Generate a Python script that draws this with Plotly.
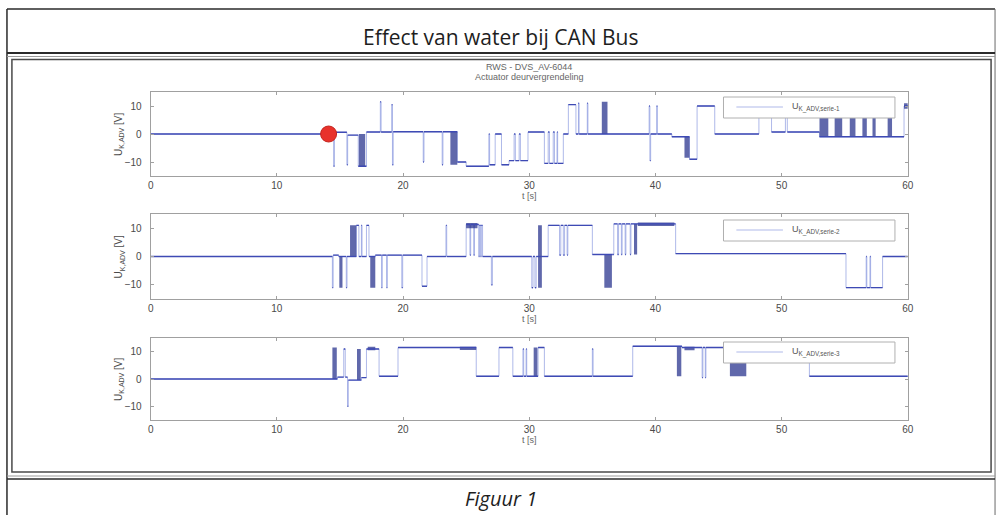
import plotly.graph_objects as go

W, H = 1005, 515
T_END = 60.0

# ---- serie-1: step breakpoints (s, V); each level holds until the next time ----
s1_t = [0.0, 14.50, 14.56, 15.55, 15.61, 16.45, 17.10, 18.20, 18.26, 19.10, 19.16, 19.22,
        21.60, 21.66, 23.10, 23.16, 24.30, 25.00, 26.80, 26.86, 27.30, 27.80, 28.40, 28.80,
        28.90, 29.20, 29.30, 29.90, 31.20, 31.50, 31.60, 31.90, 32.00, 32.20, 32.25, 32.70,
        33.10, 33.70, 33.90, 33.95, 34.60, 34.65, 39.50, 39.56, 39.62, 40.10, 40.15, 41.30,
        42.70, 43.30, 44.70, 48.20, 49.20, 50.30, 50.45, 53.00, 59.70]
s1_v = [0.0, -11.5, 0.6, -11.0, -0.4, -11.5, 0.7, 11.5, 0.7, 10.5, -11.0, 0.8,
        -10.0, 0.8, -11.0, 0.8, -10.0, -11.5, 0.0, -11.0, 0.0, -11.0, -9.5, 0.0,
        -9.5, 0.0, -9.5, 0.7, -10.5, 0.7, -10.5, 0.7, -10.5, 0.7, -10.5, 0.0,
        10.5, 0.0, 11.0, 0.0, 11.0, 0.0, 10.0, -9.5, 0.0, 10.0, 0.0, -1.0,
        -9.0, 10.0, 0.0, 10.0, 0.7, 6.0, 0.7, -1.0, 10.0]
# fast switching bursts: start, end, low, high
s1_b_t0 = [16.50, 23.75, 35.75, 42.30, 53.00, 54.20, 55.40, 56.40, 57.20, 58.40, 59.70]
s1_b_t1 = [17.00, 24.30, 36.20, 42.70, 53.70, 54.80, 55.85, 56.75, 57.45, 58.75, 60.00]
s1_b_lo = [-11.5, -11.0, 0.0, -8.5, -1.0, -1.0, -1.0, -1.0, -1.0, -1.0, 9.0]
s1_b_hi = [0.0, 0.8, 11.5, -1.0, 10.0, 10.0, 10.0, 10.0, 10.0, 10.0, 11.0]

# ---- serie-2 ----
s2_t = [0.0, 14.40, 14.46, 14.90, 15.50, 15.56, 16.30, 16.50, 16.70, 16.75, 17.10, 17.30,
        17.80, 18.30, 18.35, 18.70, 18.75, 19.90, 19.97, 21.50, 21.90, 23.40, 23.46, 25.00,
        25.30, 25.36, 25.60, 25.66, 26.00, 26.05, 26.15, 26.20, 26.30, 27.00, 27.08, 30.20,
        30.30, 30.45, 30.55, 31.00, 31.50, 32.40, 32.50, 32.70, 32.80, 33.00, 33.06, 35.00,
        36.60, 36.70, 37.00, 37.08, 37.30, 37.36, 37.60, 37.66, 38.00, 38.06, 41.60, 55.10,
        56.70, 56.75, 57.00, 57.05, 58.00]
s2_v = [0.0, -11.0, 0.5, 0.0, -11.0, 0.0, 11.0, 0.0, 11.0, 0.0, 11.0, 0.0,
        0.5, -11.0, 0.5, -11.0, 0.5, -11.0, 0.5, -10.5, 0.0, 11.0, 0.0, 11.3,
        0.5, 11.3, 0.5, 11.3, 0.0, 11.0, 0.0, 11.0, 0.0, -10.0, 0.0, -11.0,
        0.0, -11.0, 0.0, 0.0, 11.0, 0.5, 11.0, 0.5, 11.0, 0.5, 11.0, 0.7,
        0.7, 11.5, 0.7, 11.5, 0.7, 11.5, 0.7, 11.5, 0.7, 11.5, 1.0, -11.0,
        0.0, -11.0, 0.0, -11.0, 0.0]
s2_b_t0 = [14.95, 15.80, 17.40, 25.00, 30.70, 35.95, 38.30, 38.60]
s2_b_t1 = [15.20, 16.30, 17.80, 25.90, 31.00, 36.55, 38.55, 41.50]
s2_b_lo = [-11.0, 0.0, -11.0, 10.0, -11.0, -11.0, 0.7, 10.8]
s2_b_hi = [0.0, 11.0, 0.0, 11.8, 11.0, 0.7, 11.5, 12.0]

# ---- serie-3 ----
s3_t = [0.0, 14.80, 15.30, 15.42, 15.60, 15.66, 16.70, 17.10, 18.10, 19.60, 25.80, 27.60,
        28.70, 29.50, 29.56, 29.75, 29.80, 30.70, 31.20, 35.00, 35.06, 38.20, 42.10, 43.70,
        43.76, 43.95, 44.00, 47.20, 52.20]
s3_v = [0.0, 0.7, 11.0, 0.7, -10.0, -0.4, 0.5, 11.0, 1.0, 11.5, 1.0, 11.5,
        1.0, 11.0, 1.0, 11.0, 1.0, 11.5, 1.0, 11.0, 1.0, 12.0, 11.5, 0.5,
        11.5, 0.5, 11.5, 11.5, 1.0]
s3_b_t0 = [14.40, 16.35, 17.20, 24.50, 30.35, 41.70, 42.30, 45.90]
s3_b_t1 = [14.75, 16.65, 17.80, 25.80, 30.65, 42.05, 43.10, 47.20]
s3_b_lo = [0.0, -0.4, 10.5, 10.6, 1.0, 1.0, 10.5, 1.0]
s3_b_hi = [11.5, 11.0, 11.8, 11.8, 11.5, 12.0, 11.8, 11.0]

# marked event (first disturbance)
event_t = [14.1]
event_v = [0.0]

series_names = ["serie-1", "serie-2", "serie-3"]
x_ticks = [0, 10, 20, 30, 40, 50, 60]
y_ticks = [-10, 0, 10]

LINE_LIGHT = "rgba(110,128,215,0.55)"
LINE_LEVEL = "rgb(62,74,180)"
BURST_FILL = "rgba(34,46,138,0.72)"
AX = "#a0a0a0"
TXT = "#4a4a4a"


def px_x(p):
    return p / W


def px_y(p):
    return 1 - p / H


def level_segments(t, v):
    xs, ys = [], []
    for i in range(len(t)):
        t1 = t[i + 1] if i + 1 < len(t) else T_END
        xs += [t[i], t1, None]
        ys += [v[i], v[i], None]
    return xs, ys


def burst_polys(t0, t1, lo, hi):
    xs, ys = [], []
    for a, b, l, h in zip(t0, t1, lo, hi):
        xs += [a, b, b, a, a, None]
        ys += [l, l, h, h, l, None]
    return xs, ys


# axes boxes (pixel rows: top, bottom)
rows = [(92, 176), (214, 299), (338, 420)]
X0, X1 = 149, 913

fig = go.Figure()
data = [(s1_t, s1_v, s1_b_t0, s1_b_t1, s1_b_lo, s1_b_hi),
        (s2_t, s2_v, s2_b_t0, s2_b_t1, s2_b_lo, s2_b_hi),
        (s3_t, s3_v, s3_b_t0, s3_b_t1, s3_b_lo, s3_b_hi)]

for k, (t, v, b0, b1, blo, bhi) in enumerate(data):
    xa = "x" if k == 0 else f"x{k + 1}"
    ya = "y" if k == 0 else f"y{k + 1}"
    name = "U<sub>K_ADV," + series_names[k] + "</sub>"
    # full step path (transitions show as faint verticals)
    fig.add_trace(go.Scatter(x=list(t) + [T_END], y=list(v) + [v[-1]], mode="lines",
                             line=dict(color=LINE_LIGHT, width=1, shape="hv"),
                             xaxis=xa, yaxis=ya, name=name, showlegend=False,
                             hoverinfo="skip"))
    # dense switching bursts
    bx, by = burst_polys(b0, b1, blo, bhi)
    fig.add_trace(go.Scatter(x=bx, y=by, mode="lines", fill="toself", fillcolor=BURST_FILL,
                             line=dict(width=0), xaxis=xa, yaxis=ya,
                             showlegend=False, hoverinfo="skip"))
    # steady levels
    lx, ly = level_segments(t, v)
    fig.add_trace(go.Scatter(x=lx, y=ly, mode="lines",
                             line=dict(color=LINE_LEVEL, width=1.4),
                             xaxis=xa, yaxis=ya, showlegend=False, name=name))

fig.add_trace(go.Scatter(x=event_t, y=event_v, mode="markers",
                         marker=dict(color="#e8322b", size=16,
                                     line=dict(color="#c42620", width=1)),
                         xaxis="x", yaxis="y", showlegend=False, hoverinfo="skip"))

layout = dict(width=W, height=H, margin=dict(l=0, r=0, t=0, b=0),
              paper_bgcolor="white", plot_bgcolor="white", showlegend=False)

for k, (top, bot) in enumerate(rows):
    sfx = "" if k == 0 else str(k + 1)
    layout["xaxis" + sfx] = dict(
        domain=[px_x(X0), px_x(X1)], range=[0, 60], anchor="y" + sfx,
        tickvals=x_ticks, ticks="inside", ticklen=3, tickcolor=AX,
        showline=True, linecolor=AX, linewidth=1, mirror="allticks",
        showgrid=False, zeroline=False,
        tickfont=dict(family="Liberation Sans, Arial", size=10, color=TXT))
    layout["yaxis" + sfx] = dict(
        domain=[px_y(bot), px_y(top)], range=[-15, 15], anchor="x" + sfx,
        tickvals=y_ticks, ticks="inside", ticklen=3, tickcolor=AX,
        showline=True, linecolor=AX, linewidth=1, mirror="allticks",
        showgrid=False, zeroline=False, ticklabelstandoff=6,
        tickfont=dict(family="Liberation Sans, Arial", size=10, color=TXT))

annotations = []
shapes = []


def text(x, y, s, size, color=TXT, family="Liberation Sans, Arial", angle=0,
         xanchor="center", italic=False):
    annotations.append(dict(
        x=px_x(x), y=px_y(y), xref="paper", yref="paper", text=s, showarrow=False,
        xanchor=xanchor, yanchor="middle", textangle=angle,
        font=dict(family=family, size=size, color=color,
                  style="italic" if italic else "normal")))


def hline(y, x0, x1, color, width):
    shapes.append(dict(type="line", xref="paper", yref="paper", x0=px_x(x0), x1=px_x(x1),
                       y0=px_y(y), y1=px_y(y), line=dict(color=color, width=width),
                       layer="above"))


def vline(x, y0, y1, color, width):
    shapes.append(dict(type="line", xref="paper", yref="paper", x0=px_x(x), x1=px_x(x),
                       y0=px_y(y0), y1=px_y(y1), line=dict(color=color, width=width),
                       layer="above"))


# table frame around the figure
hline(9, 4, 1001, "#2a2a2a", 1.5)
vline(4, 9, 515, "#2a2a2a", 1.5)
vline(1001, 9, 515, "#6a6a6a", 1)
hline(53, 4, 1001, "#2a2a2a", 2)
hline(56.5, 4, 1001, "#9a9a9a", 1)
shapes.append(dict(type="rect", xref="paper", yref="paper", x0=px_x(9), x1=px_x(997),
                   y0=px_y(472), y1=px_y(59.5), line=dict(color="#4a4a4a", width=1.5),
                   layer="above"))
hline(476, 4, 1001, "#9a9a9a", 1)
hline(479, 4, 1001, "#2a2a2a", 1.5)

text(502, 37, "Effect van water bij CAN Bus", 21, color="#1e1e1e", family="Open Sans")
text(502, 498, "Figuur 1", 20, color="#1e1e1e", family="Open Sans", italic=True)

# plot title
text(531, 67, "RWS - DVS_AV-6044", 9, color="#666")
text(531, 77.5, "Actuator deurvergrendeling", 9, color="#666")

leg_tops = [97, 220, 342]
for k, (top, bot) in enumerate(rows):
    text(531, bot + 20, "t [s]", 9, color="#666")
    text(117, (top + bot) / 2, "U<sub>K,ADV</sub> [V]", 10, angle=-90)
    # legend box
    lt = leg_tops[k]
    shapes.append(dict(type="rect", xref="paper", yref="paper", x0=px_x(727), x1=px_x(900),
                       y0=px_y(lt + 21), y1=px_y(lt), fillcolor="white",
                       line=dict(color="#b0b0b0", width=1), layer="above"))
    hline(lt + 10, 740, 787, LINE_LIGHT, 1)
    text(794, lt + 10, "U<sub>K_ADV," + series_names[k] + "</sub>", 9,
         color="#555", xanchor="left")

layout["annotations"] = annotations
layout["shapes"] = shapes
fig.update_layout(**layout)
fig.write_html("out.html")
